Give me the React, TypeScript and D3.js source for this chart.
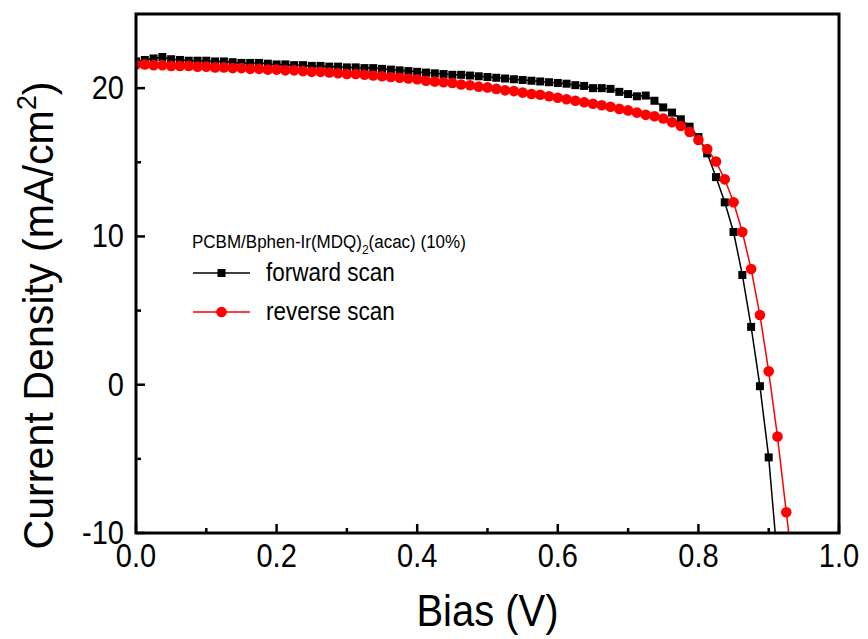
import React from "react";
import * as d3 from "d3";

const voltage = [
  0, 0.0125, 0.025, 0.0375, 0.05, 0.0625, 0.075, 0.0875, 0.1, 0.1125,
  0.125, 0.1375, 0.15, 0.1625, 0.175, 0.1875, 0.2, 0.2125, 0.225, 0.2375,
  0.25, 0.2625, 0.275, 0.2875, 0.3, 0.3125, 0.325, 0.3375, 0.35, 0.3625,
  0.375, 0.3875, 0.4, 0.4125, 0.425, 0.4375, 0.45, 0.4625, 0.475, 0.4875,
  0.5, 0.5125, 0.525, 0.5375, 0.55, 0.5625, 0.575, 0.5875, 0.6, 0.6125,
  0.625, 0.6375, 0.65, 0.6625, 0.675, 0.6875, 0.7, 0.7125, 0.725, 0.7375,
  0.75, 0.7625, 0.775, 0.7875, 0.8, 0.8125, 0.825, 0.8375, 0.85, 0.8625,
  0.875, 0.8875, 0.9, 0.9125, 0.925, 0.9375,
];

const forwardScan = [
  21.8, 21.9, 22.0, 22.1, 21.95, 21.9, 21.85, 21.85, 21.85, 21.8,
  21.8, 21.75, 21.7, 21.7, 21.7, 21.65, 21.6, 21.6, 21.55, 21.55,
  21.5, 21.5, 21.45, 21.45, 21.4, 21.4, 21.35, 21.35, 21.3, 21.25,
  21.2, 21.15, 21.1, 21.05, 21.0, 20.95, 20.9, 20.9, 20.85, 20.8,
  20.75, 20.7, 20.65, 20.6, 20.55, 20.5, 20.45, 20.4, 20.35, 20.3,
  20.2, 20.15, 20.0, 20.0, 19.95, 19.75, 19.6, 19.45, 19.5, 19.15,
  18.7, 18.35, 17.9, 17.4, 16.7, 15.6, 14.0, 12.3, 10.3, 7.4,
  3.9, -0.1, -4.9, -11.8,
];

const reverseScan = [
  21.6, 21.6, 21.55, 21.55, 21.5, 21.5, 21.5, 21.45, 21.45, 21.4,
  21.4, 21.35, 21.35, 21.3, 21.3, 21.25, 21.25, 21.2, 21.2, 21.15,
  21.1, 21.1, 21.05, 21.0, 20.95, 20.95, 20.9, 20.85, 20.8, 20.75,
  20.7, 20.65, 20.6, 20.5, 20.45, 20.4, 20.35, 20.25, 20.2, 20.1,
  20.05, 19.95, 19.85, 19.8, 19.7, 19.6, 19.55, 19.45, 19.35, 19.25,
  19.15, 19.05, 18.95, 18.85, 18.75, 18.6, 18.5, 18.35, 18.2, 18.1,
  17.95, 17.7, 17.45, 17.05, 16.5, 15.9, 15.05, 13.85, 12.3, 10.3,
  7.8, 4.7, 0.9, -3.5, -8.6, -13.6,
];

const xTicks = [0, 0.2, 0.4, 0.6, 0.8, 1.0];
const xMinorTicks = [0.1, 0.3, 0.5, 0.7, 0.9];
const yTicks = [-10, 0, 10, 20];
const yMinorTicks = [-5, 5, 15];

const legendTitle = "PCBM/Bphen-Ir(MDQ)";
const legendLabels = ["forward scan", "reverse scan"];

const W = 868;
const H = 639;
const M = { left: 136, right: 839, top: 14, bottom: 533 };
const FONT = "Liberation Sans, Arial, sans-serif";
const SY = 1.13;

export default function App() {
  const x = d3.scaleLinear().domain([0, 1]).range([M.left, M.right]);
  const y = d3.scaleLinear().domain([-10, 25]).range([M.bottom, M.top]);

  const fwd = forwardScan.map((v, i) => [voltage[i], v] as [number, number]);
  const rev = reverseScan.map((v, i) => [voltage[i], v] as [number, number]);

  const line = d3
    .line<[number, number]>()
    .x((d) => x(d[0]))
    .y((d) => y(d[1]));

  const sq = 8;
  const legendY1 = 273;
  const legendY2 = 312;

  return (
    <svg
      width={W}
      height={H}
      style={{ position: "absolute", left: 0, top: 0, background: "#fff" }}
    >
      <defs>
        <clipPath id="plotClip">
          <rect x={M.left} y={M.top} width={M.right - M.left} height={M.bottom - M.top} />
        </clipPath>
      </defs>
      <rect x={0} y={0} width={W} height={H} fill="#fff" />

      <g clipPath="url(#plotClip)">
        <path d={line(fwd) || ""} fill="none" stroke="#000" strokeWidth={1.5} />
        {fwd.map((d, i) => (
          <rect
            key={"f" + i}
            x={x(d[0]) - sq / 2}
            y={y(d[1]) - sq / 2}
            width={sq}
            height={sq}
            fill="#000"
          />
        ))}
        <path d={line(rev) || ""} fill="none" stroke="#ff0000" strokeWidth={1.5} />
        {rev.map((d, i) => (
          <circle key={"r" + i} cx={x(d[0])} cy={y(d[1])} r={5.3} fill="#ff0000" />
        ))}
      </g>

      {/* ticks */}
      {xTicks.map((t) => (
        <line key={"xt" + t} x1={x(t)} x2={x(t)} y1={M.bottom} y2={M.bottom - 9} stroke="#000" strokeWidth={2.5} />
      ))}
      {xMinorTicks.map((t) => (
        <line key={"xm" + t} x1={x(t)} x2={x(t)} y1={M.bottom} y2={M.bottom - 5} stroke="#000" strokeWidth={2.5} />
      ))}
      {yTicks.map((t) => (
        <line key={"yt" + t} x1={M.left} x2={M.left + 9} y1={y(t)} y2={y(t)} stroke="#000" strokeWidth={2.5} />
      ))}
      {yMinorTicks.map((t) => (
        <line key={"ym" + t} x1={M.left} x2={M.left + 5} y1={y(t)} y2={y(t)} stroke="#000" strokeWidth={2.5} />
      ))}

      {/* frame */}
      <rect
        x={M.left}
        y={M.top}
        width={M.right - M.left}
        height={M.bottom - M.top}
        fill="none"
        stroke="#000"
        strokeWidth={3}
      />

      {/* tick labels */}
      {xTicks.map((t) => (
        <text
          key={"xl" + t}
          transform={`translate(${x(t)}, 567) scale(1, ${SY})`}
          textAnchor="middle"
          fontFamily={FONT}
          fontSize={29}
          fill="#000"
        >
          {d3.format(".1f")(t)}
        </text>
      ))}
      {yTicks.map((t) => (
        <text
          key={"yl" + t}
          transform={`translate(124, ${y(t) + 11}) scale(1, ${SY})`}
          textAnchor="end"
          fontFamily={FONT}
          fontSize={29}
          fill="#000"
        >
          {t}
        </text>
      ))}

      {/* axis titles */}
      <text
        transform={`translate(${(M.left + M.right) / 2}, 626) scale(1, 1.1)`}
        textAnchor="middle"
        fontFamily={FONT}
        fontSize={40}
        fill="#000"
      >
        Bias (V)
      </text>
      <text
        transform={`translate(53, ${(M.top + M.bottom) / 2 + 42}) rotate(-90) scale(1.03, 1.08)`}
        textAnchor="middle"
        fontFamily={FONT}
        fontSize={40}
        fill="#000"
      >
        Current Density (mA/cm
        <tspan fontSize={26} dy={-16}>2</tspan>
        <tspan dy={16}>)</tspan>
      </text>

      {/* legend */}
      <text
        transform={`translate(192, 248) scale(1, ${SY})`}
        fontFamily={FONT}
        fontSize={17}
        fill="#000"
      >
        {legendTitle}
        <tspan fontSize={12} dy={5}>2</tspan>
        <tspan dy={-5}>(acac) (10%)</tspan>
      </text>
      <line x1={193} x2={250} y1={legendY1} y2={legendY1} stroke="#000" strokeWidth={1.5} />
      <rect x={221.5 - sq / 2} y={legendY1 - sq / 2} width={sq} height={sq} fill="#000" />
      <text
        transform={`translate(266, ${legendY1 + 8}) scale(1, ${SY})`}
        fontFamily={FONT}
        fontSize={22.5}
        fill="#000"
      >
        {legendLabels[0]}
      </text>
      <line x1={193} x2={250} y1={legendY2} y2={legendY2} stroke="#ff0000" strokeWidth={1.5} />
      <circle cx={221.5} cy={legendY2} r={5.3} fill="#ff0000" />
      <text
        transform={`translate(266, ${legendY2 + 8}) scale(1, ${SY})`}
        fontFamily={FONT}
        fontSize={22.5}
        fill="#000"
      >
        {legendLabels[1]}
      </text>
    </svg>
  );
}
